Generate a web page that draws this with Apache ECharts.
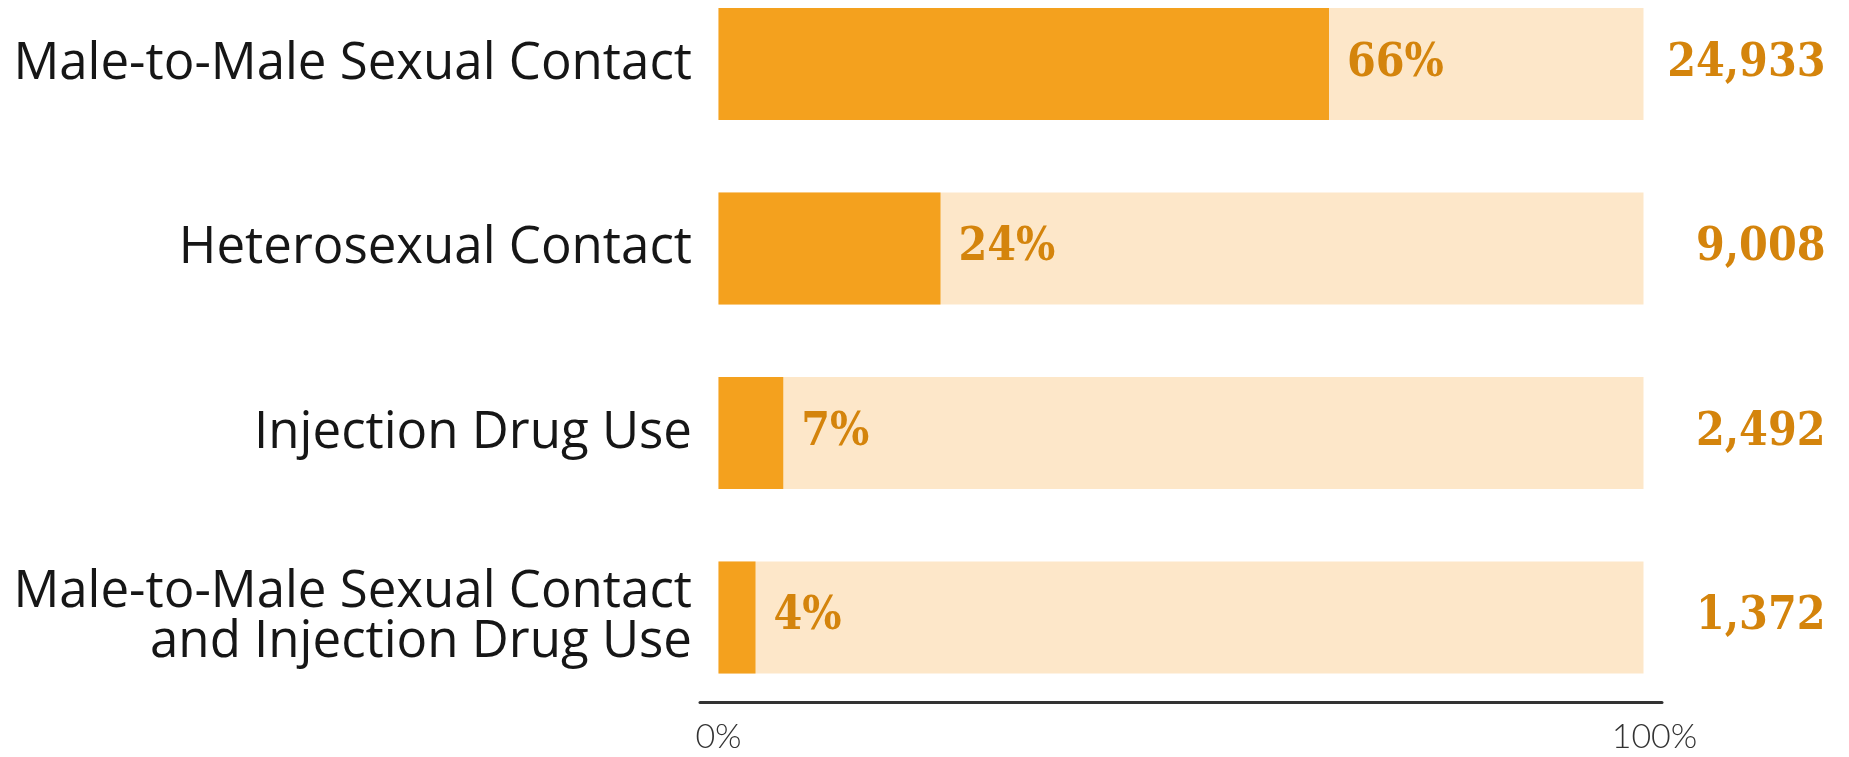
<!DOCTYPE html>
<html>
<head>
<meta charset="utf-8">
<script src="https://cdn.jsdelivr.net/npm/echarts@6/dist/echarts.min.js"></script>
<style>
  html, body { margin: 0; padding: 0; background: #ffffff; }
  #chart { width: 1849px; height: 757px; }
</style>
</head>
<body>
<div id="chart"></div>
<script>
// Transmission categories, top to bottom
const categories = [
  'Male-to-Male Sexual Contact',
  'Heterosexual Contact',
  'Injection Drug Use',
  'Male-to-Male Sexual Contact\nand Injection Drug Use'
];
// Share of diagnoses (%)
const percents = [66, 24, 7, 4];
// Number of diagnoses
const counts = ['24,933', '9,008', '2,492', '1,372'];
// Full-scale track behind each bar (%)
const totals = [100, 100, 100, 100];
// Axis tick values (%)
const axisTicks = [0, 100];

const ORANGE = '#F4A11E';
const PALE = '#FDE7C9';
const LABEL = '#D4840C';
const NUM_FONT = '"DejaVu Serif Condensed", "DejaVu Serif", serif';

const chart = echarts.init(document.getElementById('chart'), null, { renderer: 'canvas' });

chart.setOption({
  animation: false,
  backgroundColor: '#ffffff',
  grid: { left: 700, right: 187, top: 64, bottom: 139.5, containLabel: false },
  xAxis: {
    type: 'value',
    min: -2,
    max: 102,
    offset: 84.5,
    axisLine: { show: true, lineStyle: { color: '#333333', width: 3 } },
    axisTick: { show: false },
    splitLine: { show: false },
    axisLabel: {
      customValues: axisTicks,
      formatter: v => (v === 100 ? '{end|' + v + '%}' : v + '%'),
      color: '#333333',
      fontFamily: 'Lato, sans-serif',
      fontWeight: 300,
      fontSize: 34,
      margin: 18,
      rich: {
        end: {
          color: '#333333',
          fontFamily: 'Lato, sans-serif',
          fontWeight: 300,
          fontSize: 34,
          padding: [0, 0, 0, 22]
        }
      }
    }
  },
  yAxis: {
    type: 'category',
    data: categories,
    inverse: true,
    boundaryGap: false,
    axisLine: { show: false },
    axisTick: { show: false },
    splitLine: { show: false },
    axisLabel: {
      color: '#161616',
      fontFamily: '"Open Sans", sans-serif',
      fontSize: 51,
      lineHeight: 50,
      margin: 8,
      align: 'right'
    }
  },
  series: [
    {
      name: 'Total',
      type: 'bar',
      data: totals,
      barWidth: 112,
      clip: false,
      itemStyle: { color: PALE },
      silent: true,
      label: {
        show: true,
        position: 'right',
        distance: 182,
        align: 'right',
        formatter: p => counts[p.dataIndex],
        color: LABEL,
        fontFamily: NUM_FONT,
        fontWeight: 'bold',
        fontSize: 46
      }
    },
    {
      name: 'Share',
      type: 'bar',
      data: percents,
      barWidth: 112,
      barGap: '-100%',
      clip: false,
      itemStyle: { color: ORANGE },
      label: {
        show: true,
        position: 'right',
        distance: 18,
        formatter: '{c}%',
        color: LABEL,
        fontFamily: NUM_FONT,
        fontWeight: 'bold',
        fontSize: 46
      }
    }
  ]
});
</script>
</body>
</html>
